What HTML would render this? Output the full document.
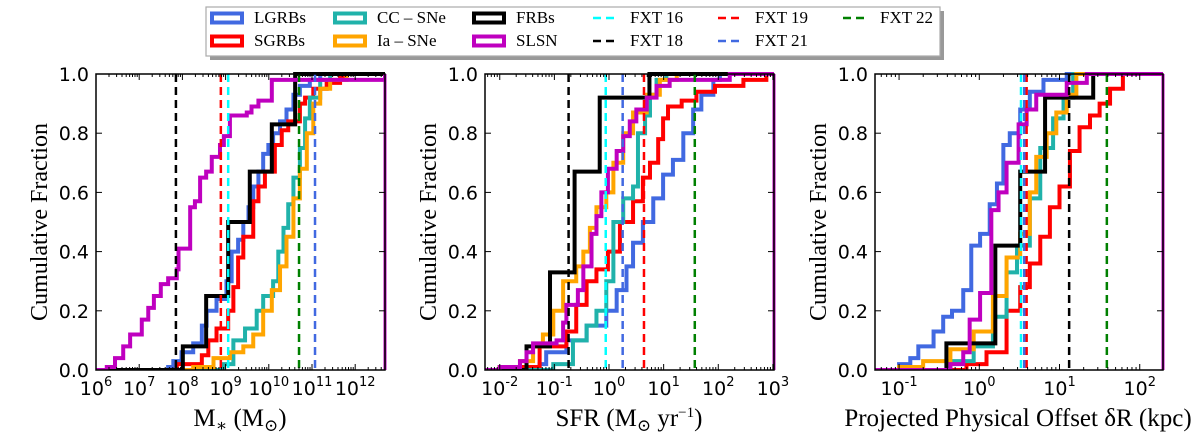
<!DOCTYPE html>
<html><head><meta charset="utf-8"><style>
html,body{margin:0;padding:0;background:#fff;}
svg{display:block;}
</style></head><body>
<svg id="chart" width="1200" height="436" viewBox="0 0 1200 436" xmlns="http://www.w3.org/2000/svg"></svg>
<script>
// ---- Data (log10 knot positions and cumulative fractions) ----
const seriesNames = ["LGRBs","SGRBs","CC – SNe","Ia – SNe","FRBs","SLSN"];
const seriesColors = ["#4169e1","#ff0000","#20b2aa","#ffa500","#000000","#bf00bf"];
// Panel 1: stellar mass
const p1_lgrb_x = [7.67,7.79,7.98,8.25,8.45,8.56,8.79,9.02,9.14,9.29,9.41,9.53,9.64,9.76,9.87,9.99,10.10,10.26,10.41,10.57,10.72,10.95,11.19];
const p1_lgrb_y = [0.01,0.03,0.06,0.09,0.15,0.20,0.24,0.30,0.40,0.44,0.50,0.55,0.62,0.67,0.73,0.76,0.80,0.84,0.88,0.93,0.96,0.98,1.0];
const p1_sgrb_x = [7.87,8.45,8.60,8.79,9.06,9.18,9.29,9.41,9.64,9.76,9.91,10.14,10.30,10.45,10.72,10.84,11.03,11.34,11.65,11.80];
const p1_sgrb_y = [0.02,0.05,0.10,0.14,0.20,0.28,0.38,0.45,0.57,0.62,0.67,0.76,0.81,0.84,0.90,0.92,0.95,0.97,0.99,1.0];
const p1_cc_x = [8.95,9.18,9.45,9.72,9.87,10.10,10.22,10.34,10.45,10.57,10.72,10.84,10.95,11.19,11.42];
const p1_cc_y = [0.02,0.10,0.14,0.20,0.25,0.30,0.40,0.48,0.56,0.65,0.75,0.85,0.92,0.98,1.0];
const p1_ia_x = [8.25,8.72,9.10,9.41,9.64,9.87,10.07,10.26,10.41,10.57,10.72,10.88,11.03,11.19,11.42,11.80];
const p1_ia_y = [0.01,0.04,0.06,0.08,0.12,0.20,0.27,0.35,0.45,0.58,0.68,0.80,0.90,0.95,0.98,1.0];
const p1_frb_x = [8.01,8.55,9.06,9.56,10.07,10.61];
const p1_frb_y = [0.08,0.25,0.50,0.67,0.83,1.0];
const p1_slsn_x = [6.25,6.44,6.63,6.79,7.06,7.21,7.34,7.50,7.67,7.87,7.91,8.18,8.29,8.41,8.55,8.68,8.87,8.96,9.10,9.49,9.60,9.76,10.07,12.69];
const p1_slsn_y = [0.01,0.04,0.08,0.12,0.17,0.21,0.25,0.29,0.31,0.34,0.41,0.55,0.57,0.65,0.67,0.72,0.76,0.79,0.86,0.87,0.89,0.91,0.98,1.0];
const p1_fxt = [9.06,7.85,8.89,11.07,10.7]; // FXT16,18,19,21,22
// Panel 2: SFR
const p2_lgrb_x = [-1.27,-1.15,-0.78,-0.41,-0.05,0.14,0.32,0.44,0.62,0.81,0.99,1.17,1.36,1.54,1.69,1.91,2.03];
const p2_lgrb_y = [0.02,0.06,0.10,0.15,0.20,0.27,0.35,0.43,0.50,0.58,0.66,0.71,0.80,0.88,0.93,0.98,1.0];
const p2_sgrb_x = [-2.0,-1.27,-0.78,-0.60,-0.41,-0.23,-0.02,0.20,0.44,0.62,0.75,0.90,0.99,1.08,1.33,1.60,1.94,2.46,2.88];
const p2_sgrb_y = [0.01,0.08,0.13,0.22,0.30,0.34,0.40,0.50,0.57,0.65,0.70,0.78,0.85,0.89,0.91,0.94,0.96,0.98,1.0];
const p2_cc_x = [-1.02,-0.66,-0.41,-0.23,-0.05,0.08,0.26,0.44,0.53,0.66,0.75,0.87,1.05];
const p2_cc_y = [0.02,0.10,0.15,0.20,0.30,0.50,0.58,0.62,0.80,0.86,0.93,0.98,1.0];
const p2_ia_x = [-2.0,-1.63,-1.39,-1.21,-1.02,-0.84,-0.60,-0.47,-0.35,-0.23,-0.05,0.08,0.26,0.44,0.69,0.93,1.24];
const p2_ia_y = [0.01,0.03,0.08,0.12,0.20,0.30,0.35,0.40,0.48,0.55,0.60,0.70,0.80,0.87,0.93,0.98,1.0];
const p2_frb_x = [-1.51,-1.08,-0.63,-0.17,0.74];
const p2_frb_y = [0.08,0.33,0.67,0.92,1.0];
const p2_slsn_x = [-2.0,-1.63,-1.51,-1.39,-0.96,-0.84,-0.78,-0.57,-0.47,-0.32,-0.23,-0.14,-0.02,0.14,0.26,0.38,0.50,0.69,0.87,1.11,2.21,3.02];
const p2_slsn_y = [0.01,0.03,0.06,0.09,0.10,0.16,0.22,0.27,0.35,0.46,0.52,0.60,0.68,0.74,0.79,0.84,0.88,0.92,0.96,0.98,1.0,1.0];
const p2_fxt = [-0.06,-0.74,0.64,0.25,1.57];
// Panel 3: offset
const p3_lgrb_x = [-1.0,-0.86,-0.76,-0.57,-0.45,-0.34,-0.20,-0.10,0.01,0.13,0.22,0.30,0.38,0.51,0.63,0.80,1.09];
const p3_lgrb_y = [0.02,0.04,0.08,0.13,0.18,0.20,0.27,0.42,0.46,0.56,0.63,0.76,0.80,0.88,0.94,0.98,1.0];
const p3_sgrb_x = [-0.16,0.09,0.34,0.51,0.63,0.76,0.88,1.00,1.13,1.25,1.38,1.50,1.63,1.79];
const p3_sgrb_y = [0.02,0.06,0.20,0.28,0.36,0.45,0.55,0.62,0.74,0.82,0.86,0.90,0.95,1.0];
const p3_cc_x = [-0.36,-0.07,0.17,0.34,0.47,0.63,0.76,0.92,1.05,1.17];
const p3_cc_y = [0.03,0.08,0.18,0.33,0.42,0.58,0.75,0.85,0.92,1.0];
const p3_ia_x = [-1.0,-0.70,-0.36,-0.07,0.17,0.34,0.51,0.63,0.71,0.84,0.96,1.09,1.21];
const p3_ia_y = [0.01,0.03,0.07,0.13,0.25,0.38,0.46,0.60,0.72,0.80,0.87,0.93,1.0];
const p3_frb_x = [-0.41,0.20,0.51,0.82,1.42];
const p3_frb_y = [0.09,0.42,0.67,0.92,1.0];
const p3_slsn_x = [-0.36,-0.20,-0.12,0.01,0.15,0.24,0.34,0.49,0.59,0.71,1.09,1.34];
const p3_slsn_y = [0.02,0.06,0.17,0.26,0.54,0.60,0.70,0.83,0.88,0.93,0.97,1.0];
const p3_fxt = [0.52,1.12,0.59,0.56,1.59];

const fxtNames = ["FXT 16","FXT 18","FXT 19","FXT 21","FXT 22"];
const fxtColors = ["#00ffff","#000000","#ff0000","#4169e1","#008000"];
const yTicks = [0.0,0.2,0.4,0.6,0.8,1.0];

const NS="http://www.w3.org/2000/svg";
const svg=document.getElementById('chart');
function mk(tag,attrs,parent){const e=document.createElementNS(NS,tag);for(const k in attrs)e.setAttribute(k,attrs[k]);(parent||svg).appendChild(e);return e;}

const TOP=74,BOT=370;
const panels=[
 {key:"mass",left:96,right:385,lmin:6.0,lmax:12.69,dec:[6,7,8,9,10,11,12],
  data:[[p1_lgrb_x,p1_lgrb_y],[p1_sgrb_x,p1_sgrb_y],[p1_cc_x,p1_cc_y],[p1_ia_x,p1_ia_y],[p1_frb_x,p1_frb_y],[p1_slsn_x,p1_slsn_y]],fxt:p1_fxt,ytx:40},
 {key:"sfr",left:485,right:774,lmin:-2.27,lmax:3.02,dec:[-2,-1,0,1,2,3],
  data:[[p2_lgrb_x,p2_lgrb_y],[p2_sgrb_x,p2_sgrb_y],[p2_cc_x,p2_cc_y],[p2_ia_x,p2_ia_y],[p2_frb_x,p2_frb_y],[p2_slsn_x,p2_slsn_y]],fxt:p2_fxt,ytx:429},
 {key:"offset",left:875,right:1163,lmin:-1.30,lmax:2.29,dec:[-1,0,1,2],
  data:[[p3_lgrb_x,p3_lgrb_y],[p3_sgrb_x,p3_sgrb_y],[p3_cc_x,p3_cc_y],[p3_ia_x,p3_ia_y],[p3_frb_x,p3_frb_y],[p3_slsn_x,p3_slsn_y]],fxt:p3_fxt,ytx:819}
];

panels.forEach((p,pi)=>{
  const g=mk('g',{});
  
  
  const X=l=>p.left+(l-p.lmin)/(p.lmax-p.lmin)*(p.right-p.left);
  const Y=f=>BOT-f*(BOT-TOP);
  const clip='clip'+pi;
  const cp=mk('clipPath',{id:clip},g);mk('rect',{x:p.left,y:TOP-3,width:p.right-p.left,height:BOT-TOP+3},cp);
  [0,1,2,3,4,5].forEach(si=>{
    const xs=p.data[si][0],ys=p.data[si][1];
    let d='M'+X(p.lmin)+','+Y(0);
    let prev=0;
    for(let i=0;i<xs.length;i++){d+=' L'+X(xs[i])+','+Y(prev)+' L'+X(xs[i])+','+Y(ys[i]);prev=ys[i];}
    d+=' L'+X(p.lmax)+','+Y(prev);
    const path=mk('path',{d:d,fill:'none',stroke:seriesColors[si],'stroke-width':4,'clip-path':'url(#'+clip+')'},g);
    
    
  });
  const edge=mk('line',{x1:p.right,y1:Y(0),x2:p.right,y2:Y(1),stroke:seriesColors[5],'stroke-width':3},g);
  
  
  p.fxt.forEach((v,fi)=>{
    const ln=mk('line',{x1:X(v),y1:Y(1),x2:X(v),y2:Y(0),stroke:fxtColors[fi],'stroke-width':2.5,'stroke-dasharray':'8,5'},g);
    
    
  });
  const fr=mk('rect',{x:p.left,y:TOP,width:p.right-p.left,height:BOT-TOP,fill:'none',stroke:'#000','stroke-width':1.5},g);
  
  
  yTicks.forEach(t=>{
    const y=Y(t);
    mk('line',{x1:p.left,y1:y,x2:p.left+6,y2:y,stroke:'#000','stroke-width':1},g);
    mk('line',{x1:p.right,y1:y,x2:p.right-6,y2:y,stroke:'#000','stroke-width':1},g);
    const tx=mk('text',{x:p.left-7,y:y+7,'text-anchor':'end','font-family':'DejaVu Sans, sans-serif','font-size':19},g);
    tx.textContent=t.toFixed(1);
    
    
  });
  for(let d=Math.floor(p.lmin);d<=Math.ceil(p.lmax);d++){
    for(let m=1;m<10;m++){
      const l=d+Math.log10(m);
      if(l<p.lmin-1e-6||l>p.lmax+1e-6)continue;
      const x=X(l),len=m===1?6:3;
      mk('line',{x1:x,y1:BOT,x2:x,y2:BOT-len,stroke:'#000','stroke-width':1},g);
      mk('line',{x1:x,y1:TOP,x2:x,y2:TOP+len,stroke:'#000','stroke-width':1},g);
    }
  }
  p.dec.forEach(d=>{
    const tx=mk('text',{x:X(d),y:395,'text-anchor':'middle','font-family':'DejaVu Sans, sans-serif','font-size':19},g);
    
    
    const a=mk('tspan',{},tx);a.textContent='10';
    const b=mk('tspan',{dy:-9,'font-size':13},tx);b.textContent=String(d);
  });
  const yt=mk('text',{x:p.ytx,y:222,transform:'rotate(-90 '+p.ytx+' 222)','text-anchor':'middle','dominant-baseline':'central','font-family':'Liberation Serif, serif','font-size':24},g);
  yt.textContent='Cumulative Fraction';
  
  
});

function xTitle(x,parts,name){
  const t=mk('text',{x:x,y:426,'text-anchor':'middle','font-family':'Liberation Serif, DejaVu Serif, serif','font-size':25});
  
  
  parts.forEach(pt=>{const s=mk('tspan',pt[1]||{},t);s.textContent=pt[0];});
}
xTitle(240,[["M"],["∗",{'font-size':17,dy:5}],[" (M",{dy:-5}],["⊙",{'font-size':17,dy:5}],[")",{dy:-5}]],'x-axis-title-mass');
xTitle(629,[["SFR (M"],["⊙",{'font-size':17,dy:5}],[" yr",{dy:-5}],["−1",{'font-size':15,dy:-9}],[")",{dy:9}]],'x-axis-title-sfr');
xTitle(1018,[["Projected Physical Offset δR (kpc)"]],'x-axis-title-offset');

const lg=mk('g',{});


mk('rect',{x:210,y:11,width:734,height:49,fill:'#999'},lg);
mk('rect',{x:206,y:7,width:734,height:49,fill:'#fff',stroke:'#aaa','stroke-width':1.2},lg);
const patchPos=[[210,18],[210,41],[333,18],[333,41],[472,18],[472,41]];
seriesNames.forEach((n,i)=>{
  const [px,py]=patchPos[i];
  const r=mk('rect',{x:px+2,y:py-4.5,width:30,height:9,fill:'#fff',stroke:seriesColors[i],'stroke-width':4},lg);
  
  
  const t=mk('text',{x:px+44,y:py+5,'font-family':'Liberation Serif, serif','font-size':17},lg);
  t.textContent=n;
  
  
});
const fxtPos=[[593,18],[593,41],[718,18],[718,41],[843,18]];
fxtNames.forEach((n,i)=>{
  const [px,py]=fxtPos[i];
  const l=mk('line',{x1:px,y1:py,x2:px+25,y2:py,stroke:fxtColors[i],'stroke-width':2.5,'stroke-dasharray':'8,5'},lg);
  
  
  const t=mk('text',{x:px+37,y:py+5,'font-family':'Liberation Serif, serif','font-size':17},lg);
  t.textContent=n;
  
  
});
</script>
</body></html>
